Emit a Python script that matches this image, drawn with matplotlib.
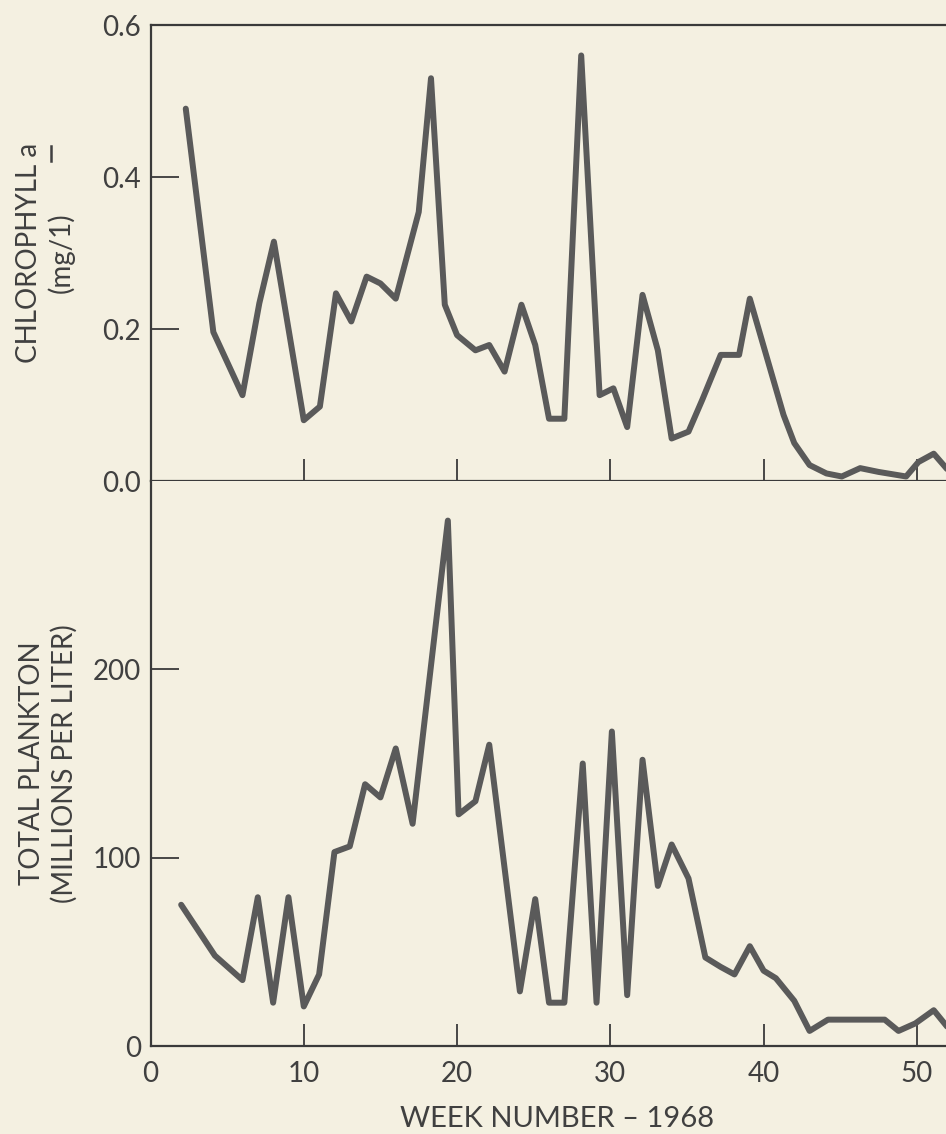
import matplotlib
matplotlib.use('Agg')
import matplotlib.pyplot as plt
from matplotlib.lines import Line2D

plt.rcParams['font.family'] = ['Lato', 'DejaVu Sans']

# chlorophyll a, mg/l (week, value)
chl_week = [2.3, 4.1, 6, 7.1, 8.05, 10, 11.05, 12.1, 13.1, 14.1, 15, 16, 17.5, 18.3,
            19.2, 20, 21.2, 22.1, 23.1, 24.2, 25.1, 26, 27, 28.1, 29.3, 30.2, 31.1,
            32.1, 33.1, 34, 35.1, 36, 37.2, 38.4, 39.1, 41.3, 42, 43, 44.1, 45.1,
            46.3, 47.5, 49.3, 50.1, 51.1, 52]
chl_val = [0.49, 0.196, 0.113, 0.234, 0.315, 0.08, 0.098, 0.247, 0.21, 0.269, 0.26,
           0.24, 0.354, 0.53, 0.232, 0.192, 0.172, 0.179, 0.144, 0.232, 0.179, 0.082,
           0.082, 0.56, 0.113, 0.122, 0.071, 0.245, 0.172, 0.056, 0.065, 0.107, 0.166,
           0.166, 0.24, 0.087, 0.05, 0.021, 0.01, 0.006, 0.017, 0.012, 0.006, 0.025,
           0.036, 0.015]

# total plankton, millions per liter
pl_week = [2, 4.2, 6, 7, 8, 9, 10, 11, 12, 13, 14, 15, 16, 17.1, 19.4, 20.1, 21.2,
           22.1, 24.1, 25.1, 26, 27, 28.2, 29.1, 30.1, 31.1, 32.1, 33.1, 34, 35.1,
           36.2, 37.2, 38.1, 39.1, 40, 40.8, 42, 43, 44.2, 46, 47.9, 48.8, 49.9,
           51.1, 52.5]
pl_val = [75, 48, 35, 79, 23, 79, 21, 38, 103, 106, 139, 132, 158, 118, 279, 123,
          130, 160, 29, 78, 23, 23, 150, 23, 167, 27, 152, 85, 107, 89, 47, 42, 38,
          53, 40, 36, 24, 8, 14, 14, 14, 8, 12, 19, 5]

bg = '#f4f0e1'
ink = '#3a3a3a'
txt = '#404040'
line_c = '#5a5a5a'

fig = plt.figure(figsize=(9.46, 11.34), dpi=100, facecolor=bg)
ax1 = fig.add_axes([0.1591, 0.5758, 0.8409, 0.4021], facecolor=bg)
ax2 = fig.add_axes([0.1591, 0.0776, 0.8409, 0.4982], facecolor=bg)

ax1.plot(chl_week, chl_val, color=line_c, lw=4.3, solid_joinstyle='round',
         solid_capstyle='round', clip_on=False)
ax2.plot(pl_week, pl_val, color=line_c, lw=4.3, solid_joinstyle='round',
         solid_capstyle='round')

for ax in (ax1, ax2):
    ax.set_xlim(0, 51.9)
    ax.set_xticks([0, 10, 20, 30, 40, 50])
    ax.spines['right'].set_visible(False)
    for s in ('left', 'top', 'bottom'):
        ax.spines[s].set_color(ink)
        ax.spines[s].set_linewidth(1.6)
    ax.tick_params(direction='in', color=ink, labelcolor=txt, labelsize=20,
                   width=1.3)
    ax.tick_params(axis='y', length=20, pad=7)
    ax.tick_params(axis='x', length=16, pad=11)

ax1.set_ylim(0, 0.6)
ax1.set_yticks([0, 0.2, 0.4, 0.6])
ax1.set_yticklabels(['0.0', '0.2', '0.4', '0.6'])
ax1.tick_params(axis='x', labelbottom=False)

ax2.set_ylim(0, 300)
ax2.set_yticks([0, 100, 200])
ax2.spines['top'].set_visible(False)

ax1.set_ylabel('CHLOROPHYLL a\n(mg/1)', fontsize=20, color=txt, linespacing=1.25)
ax1.yaxis.set_label_coords(-0.095, 0.5)
ax2.set_ylabel('TOTAL PLANKTON\n(MILLIONS PER LITER)', fontsize=20, color=txt,
               linespacing=1.25)
ax2.yaxis.set_label_coords(-0.092, 0.5)
ax2.set_xlabel('WEEK NUMBER \u2013 1968', fontsize=21, color=txt)
ax2.xaxis.set_label_coords(0.511, -0.107)

# underline under the "a", placed from the drawn label
fig.canvas.draw()
bb = ax1.yaxis.label.get_window_extent(fig.canvas.get_renderer())
inv = fig.transFigure.inverted()
ux = bb.x0 + 0.6 * bb.width
(x0, y0), (x1, y1) = inv.transform([(ux, bb.y1 - 18), (ux, bb.y1 - 3)])
fig.add_artist(Line2D([x0, x1], [y0, y1], color=txt, lw=1.8))

fig.savefig('out.png', dpi=100, facecolor=bg)
